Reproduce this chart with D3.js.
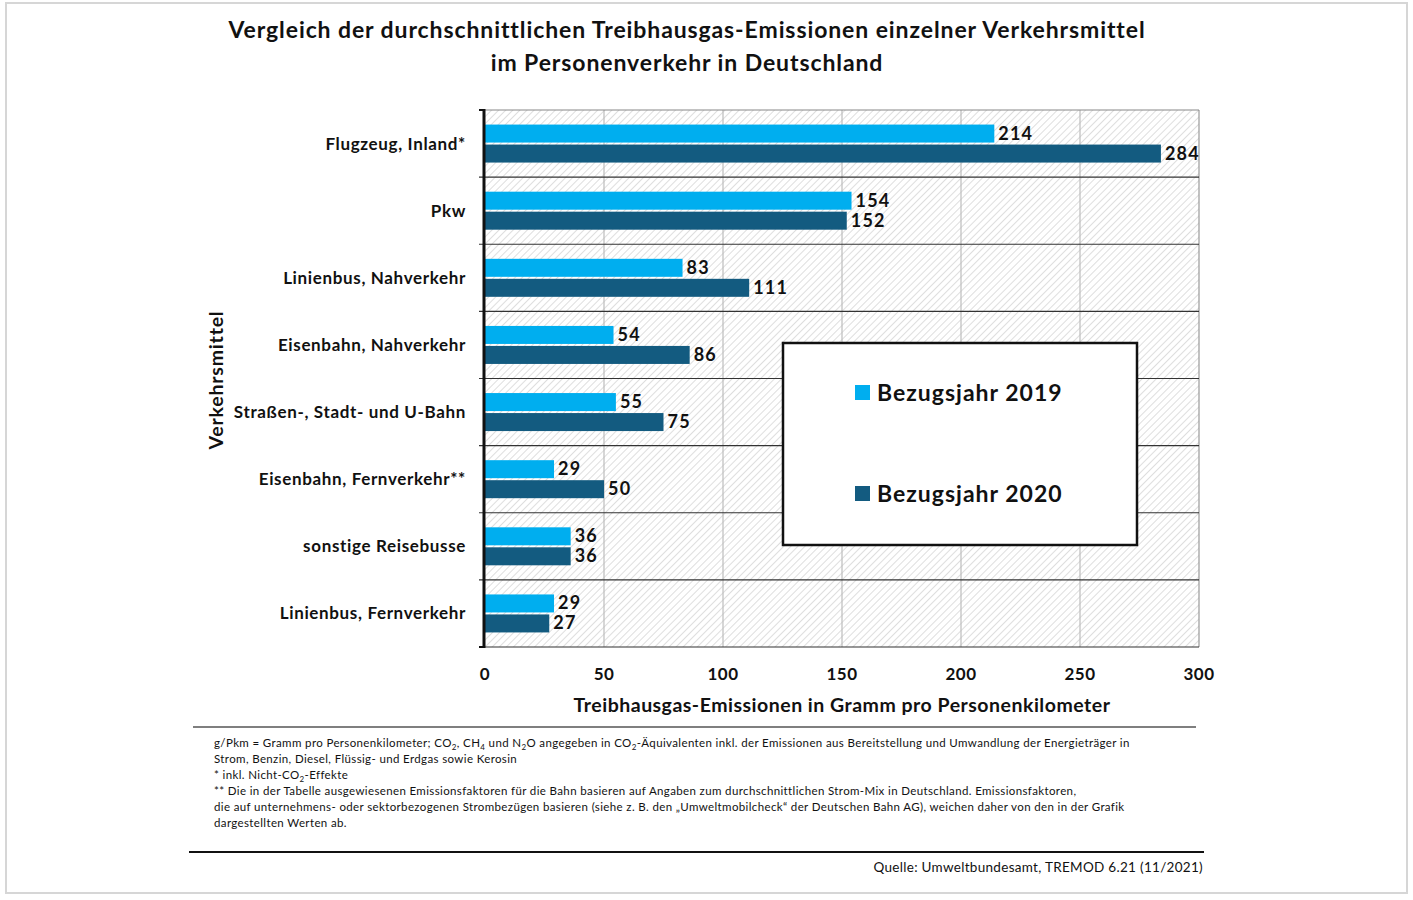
<!DOCTYPE html>
<html><head><meta charset="utf-8">
<script src="https://cdn.jsdelivr.net/npm/d3@7"></script>
<style>
body{margin:0;background:#fff;font-family:Lato,"Noto Sans",sans-serif;}
svg text{font-family:Lato,"Noto Sans",sans-serif;fill:#111;}
</style></head><body>
<svg id="c" width="1413" height="900"></svg>
<script>
const categories = ["Flugzeug, Inland*","Pkw","Linienbus, Nahverkehr","Eisenbahn, Nahverkehr","Straßen-, Stadt- und U-Bahn","Eisenbahn, Fernverkehr**","sonstige Reisebusse","Linienbus, Fernverkehr"];
const values2019 = [214,154,83,54,55,29,36,29];
const values2020 = [284,152,111,86,75,50,36,27];
const seriesNames = ["Bezugsjahr 2019","Bezugsjahr 2020"];
const xTicks = [0,50,100,150,200,250,300];
const titleLines = ["Vergleich der durchschnittlichen Treibhausgas-Emissionen einzelner Verkehrsmittel","im Personenverkehr in Deutschland"];
const colors = ["#00AEEF","#135B80"];

const svg = d3.select("#c");
// outer frame
svg.append("rect").attr("x",6).attr("y",3).attr("width",1401).attr("height",890)
  .attr("fill","#fff").attr("stroke","#d6d6d6").attr("stroke-width",2);

const defs = svg.append("defs");
const pat = defs.append("pattern").attr("id","hatch").attr("patternUnits","userSpaceOnUse")
  .attr("width",5).attr("height",5).attr("patternTransform","rotate(45)");
pat.append("rect").attr("width",5).attr("height",5).attr("fill","#fff");
pat.append("line").attr("x1",0).attr("y1",0).attr("x2",0).attr("y2",5).attr("stroke","#c8c8c8").attr("stroke-width",1.2);

const m = {left:485, right:1199, top:110, bottom:647};
const x = d3.scaleLinear().domain([0,300]).range([m.left,m.right]);
const y = d3.scaleBand().domain(categories).range([m.top,m.bottom]);

// title
svg.append("text").attr("x",687).attr("y",0).attr("text-anchor","middle")
  .attr("font-weight","bold").attr("font-size",23).attr("letter-spacing",0.9)
  .selectAll("tspan").data(titleLines).join("tspan")
  .attr("x",687).attr("y",(d,i)=>38+i*33).text(d=>d);

// plot background
svg.append("rect").attr("x",m.left).attr("y",m.top).attr("width",m.right-m.left).attr("height",m.bottom-m.top)
  .attr("fill","url(#hatch)");

// vertical gridlines
svg.append("g").selectAll("line").data(xTicks.slice(1)).join("line")
  .attr("x1",d=>x(d)).attr("x2",d=>x(d)).attr("y1",m.top).attr("y2",m.bottom)
  .attr("stroke",(d,i)=>d===300?"#999":"#bdbdbd").attr("stroke-width",1.2);
// top border
svg.append("line").attr("x1",m.left).attr("x2",m.right).attr("y1",m.top).attr("y2",m.top).attr("stroke","#888").attr("stroke-width",1.2);

// band separators
const seps = categories.slice(1).map(c=>y(c));
svg.append("g").selectAll("line").data(seps.concat([m.bottom])).join("line")
  .attr("x1",m.left-6).attr("x2",m.right).attr("y1",d=>d).attr("y2",d=>d)
  .attr("stroke","#333").attr("stroke-width",1.2);
svg.append("line").attr("x1",m.left-6).attr("x2",m.left).attr("y1",m.top).attr("y2",m.top).attr("stroke","#111").attr("stroke-width",2);
svg.append("line").attr("x1",m.left-6).attr("x2",m.left).attr("y1",m.bottom).attr("y2",m.bottom).attr("stroke","#111").attr("stroke-width",2);

// bars
const bw = y.bandwidth();
const barH = 18;
const g = svg.append("g");
const rows = categories.map((c,i)=>({c, v:[values2019[i],values2020[i]]}));
rows.forEach(r=>{
  r.v.forEach((v,k)=>{
    const yy = y(r.c) + bw/2 - barH - 1 + k*(barH+2);
    g.append("rect").attr("x",x(0)).attr("y",yy).attr("width",x(v)-x(0)).attr("height",barH)
      .attr("fill",colors[k]);
    g.append("text").attr("x",x(v)+4).attr("y",yy+barH/2+6 + (k===0?0:0))
      .attr("font-weight","bold").attr("font-size",18).attr("letter-spacing",1.2).text(v);
  });
});

// left axis line
svg.append("line").attr("x1",m.left-1).attr("x2",m.left-1).attr("y1",m.top-1).attr("y2",m.bottom+1)
  .attr("stroke","#111").attr("stroke-width",3);

// category labels
svg.append("g").selectAll("text").data(categories).join("text")
  .attr("x",466).attr("y",d=>y(d)+bw/2+6).attr("text-anchor","end")
  .attr("font-weight","bold").attr("font-size",17).attr("letter-spacing",0.65).text(d=>d);

// x tick labels
svg.append("g").selectAll("text").data(xTicks).join("text")
  .attr("x",d=>x(d)).attr("y",680).attr("text-anchor","middle")
  .attr("font-weight","bold").attr("font-size",17).attr("letter-spacing",0.5).text(d=>d);

// axis titles
svg.append("text").attr("x",842).attr("y",712).attr("text-anchor","middle")
  .attr("font-weight","bold").attr("font-size",19.5).attr("letter-spacing",0.5).text("Treibhausgas-Emissionen in Gramm pro Personenkilometer");
svg.append("text").attr("transform","translate(223,380) rotate(-90)").attr("text-anchor","middle")
  .attr("font-weight","bold").attr("font-size",19.5).attr("letter-spacing",0.8).text("Verkehrsmittel");

// legend
const lg = svg.append("g");
lg.append("rect").attr("x",783).attr("y",343).attr("width",354).attr("height",202)
  .attr("fill","#fff").attr("stroke","#111").attr("stroke-width",2.5);
seriesNames.forEach((s,i)=>{
  const ly = 393 + i*101;
  lg.append("rect").attr("x",855).attr("y",ly-8).attr("width",15).attr("height",15).attr("fill",colors[i]);
  lg.append("text").attr("x",877).attr("y",ly+8).attr("font-weight","bold").attr("font-size",23).attr("letter-spacing",1).text(s);
});

// footnotes
svg.append("line").attr("x1",193).attr("x2",1196).attr("y1",727).attr("y2",727).attr("stroke","#555").attr("stroke-width",1.5);
const fn = svg.append("g").attr("font-size",11.5).attr("letter-spacing",0.37);
const fnLines = [
  [["g/Pkm = Gramm pro Personenkilometer; CO"],["2","s"],[", CH"],["4","s"],[" und N"],["2","s"],["O angegeben in CO"],["2","s"],["-Äquivalenten inkl. der Emissionen aus Bereitstellung und Umwandlung der Energieträger in"]],
  [["Strom, Benzin, Diesel, Flüssig- und Erdgas sowie Kerosin"]],
  [["* inkl. Nicht-CO"],["2","s"],["-Effekte"]],
  [["** Die in der Tabelle ausgewiesenen Emissionsfaktoren für die Bahn basieren auf Angaben zum durchschnittlichen Strom-Mix in Deutschland. Emissionsfaktoren,"]],
  [["die auf unternehmens- oder sektorbezogenen Strombezügen basieren (siehe z. B. den „Umweltmobilcheck“ der Deutschen Bahn AG), weichen daher von den in der Grafik"]],
  [["dargestellten Werten ab."]]
];
fnLines.forEach((parts,i)=>{
  const t = fn.append("text").attr("x",214).attr("y",747+i*16);
  parts.forEach(p=>{
    const ts = t.append("tspan").text(p[0]);
    if(p[1]==="s"){ts.attr("font-size",8).attr("dy",3);}
    else if(t.selectAll("tspan").size()>1){ts.attr("dy",-3);}
  });
});
svg.append("line").attr("x1",189).attr("x2",1204).attr("y1",852).attr("y2",852).attr("stroke","#111").attr("stroke-width",2);
svg.append("text").attr("x",1203).attr("y",872).attr("text-anchor","end").attr("font-size",13.5).attr("letter-spacing",0.3)
  .attr("fill","#222").text("Quelle: Umweltbundesamt, TREMOD 6.21 (11/2021)");
</script></body></html>
